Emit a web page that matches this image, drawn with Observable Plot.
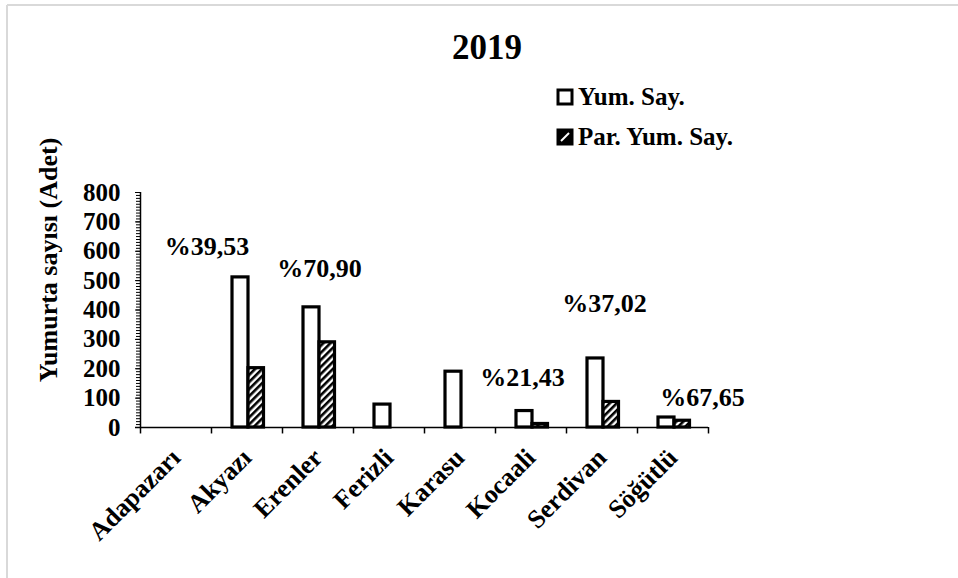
<!DOCTYPE html>
<html><head><meta charset="utf-8">
<script src="https://cdn.jsdelivr.net/npm/d3@7"></script>
<script src="https://cdn.jsdelivr.net/npm/@observablehq/plot@0.6"></script>
<style>
body{margin:0;background:#fff}
#chart{position:relative;width:958px;height:578px;overflow:hidden}
</style>
</head><body><div id="chart"></div>
<script>
// ---- data ----
const categories = ["Adapazarı","Akyazı","Erenler","Ferizli","Karasu","Kocaali","Serdivan","Söğütlü"];
const yumSay     = [0, 511, 409, 78, 190, 56, 235, 34];
const parYumSay  = [0, 202, 290, 0, 0, 12, 87, 23];
const percentLabels = ["", "%39,53", "%70,90", "", "", "%21,43", "%37,02", "%67,65"];
const seriesNames = ["Yum. Say.", "Par. Yum. Say."];
const yTicks = d3.range(0, 801, 100);
const yMinorTicks = d3.range(0, 801, 10);
const title = "2019";
const yLabel = "Yumurta sayısı (Adet)";
// annotation anchor heights (data units) and horizontal nudges
const labelY  = [null, 617, 542, null, null, 171, 420, 103];
const labelDx = [0, -40, 1.5, 0, 0, -8.5, 2.5, 29.5];

const FONT = '"Times New Roman","Liberation Serif",serif';
const W = 958, H = 578, ML = 140, MR = 250, MT = 192, MB = 151;
const bw = (W - ML - MR) / categories.length;
const half = bw / 2;

const rows = categories.map((c, i) => ({cat: c, yum: yumSay[i], par: parYumSay[i],
  label: percentLabels[i], ly: labelY[i], ldx: labelDx[i]}));

const textStyle = {fontFamily: FONT, fontWeight: "bold", fontSize: 26, fill: "black"};

const plot = Plot.plot({
  width: W, height: H,
  marginLeft: ML, marginRight: MR, marginTop: MT, marginBottom: MB,
  style: {fontFamily: FONT, fontWeight: "bold", fontSize: "25px", color: "#000", background: "transparent", overflow: "visible"},
  x: {domain: categories, padding: 0, label: null},
  y: {domain: [0, 800], label: null},
  marks: [
    Plot.barY(rows.filter(d => d.yum > 0), {x: "cat", y: "yum", fill: "white", stroke: "black", strokeWidth: 3.2,
      insetLeft: half - 14.5, insetRight: half - 1.5}),
    Plot.barY(rows.filter(d => d.par > 0), {x: "cat", y: "par", fill: "url(#hatch)", stroke: "black", strokeWidth: 3.2,
      insetLeft: half + 1.5, insetRight: half - 17}),
    Plot.ruleY([0], {stroke: "black", strokeWidth: 1.5, insetLeft: -5}),
    Plot.ruleX([categories[0]], {dx: -half, y1: 0, y2: 800, stroke: "black", strokeWidth: 1.5}),
    Plot.ruleX(categories, {x: d => d, dx: -half, y1: -22, y2: 0, stroke: "black", strokeWidth: 1.5}),
    Plot.ruleX([categories[categories.length - 1]], {x: d => d, dx: half, y1: -22, y2: 0, stroke: "black", strokeWidth: 1.5}),
    Plot.axisY(yMinorTicks, {tickSize: 4, tickFormat: () => "", stroke: "black", strokeWidth: 1}),
    Plot.axisY(yTicks, {tickSize: 5, tickPadding: 15, fontSize: 25, fontWeight: "bold", fontFamily: FONT, label: null}),
    Plot.axisX({tickSize: 0, tickRotate: -45, tickPadding: 26, fontSize: 26, fontWeight: "bold", fontFamily: FONT, label: null}),
    ...rows.filter(d => d.label).map(d =>
      Plot.text([d], {x: "cat", y: "ly", text: "label", dx: d.ldx, ...textStyle}))
  ]
});

const svg = d3.select(plot);
svg.insert("defs", ":first-child").html(
  `<pattern id="hatch" patternUnits="userSpaceOnUse" width="5" height="5" patternTransform="rotate(45)">
     <rect width="5" height="5" fill="white"/><rect width="2.6" height="5" fill="black"/>
   </pattern>`);

// frame border (top & left visible)
svg.append("line").attr("x1", 7).attr("y1", 5).attr("x2", W).attr("y2", 5).attr("stroke", "#d9d9d9").attr("stroke-width", 2);
svg.append("line").attr("x1", 7).attr("y1", 5).attr("x2", 7).attr("y2", H).attr("stroke", "#d9d9d9").attr("stroke-width", 2);

// title
svg.append("text").attr("x", 487).attr("y", 59).attr("text-anchor", "middle")
  .style("font-family", FONT).style("font-weight", "bold").style("font-size", "35px").text(title);

// y label
svg.append("text").attr("transform", "translate(57,260) rotate(-90)").attr("text-anchor", "middle")
  .style("font-family", FONT).style("font-weight", "bold").style("font-size", "26px").text(yLabel);

// legend
const lg = svg.append("g").attr("text-anchor", "start").style("font-family", FONT).style("font-weight", "bold").style("font-size", "25px");
lg.append("rect").attr("x", 558).attr("y", 90).attr("width", 14).attr("height", 14).attr("fill", "white").attr("stroke", "black").attr("stroke-width", 3);
lg.append("text").attr("x", 578).attr("y", 105).text(seriesNames[0]);
lg.append("rect").attr("x", 558).attr("y", 130).attr("width", 14).attr("height", 14).attr("fill", "black").attr("stroke", "black").attr("stroke-width", 3);
lg.append("line").attr("x1", 561).attr("y1", 141).attr("x2", 569).attr("y2", 133).attr("stroke", "white").attr("stroke-width", 2);
lg.append("text").attr("x", 578).attr("y", 145).text(seriesNames[1]);

document.getElementById("chart").appendChild(plot);
</script>
</body></html>
